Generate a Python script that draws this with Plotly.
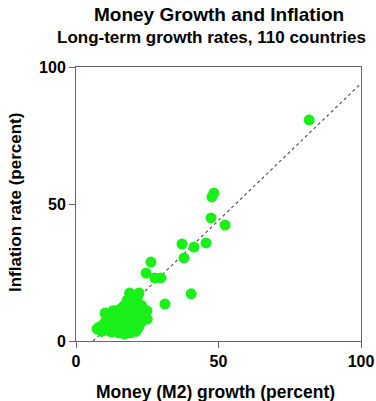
import plotly.graph_objects as go

# Money growth (x) and inflation (y), percent
money_growth = [81.8, 48.4, 47.7, 47.4, 52.3, 37.2, 41.4, 45.6, 37.9, 26.3,
                24.6, 27.7, 29.8, 40.4, 31.2, 18.8, 22.1, 24.9, 18.2, 12.6,
                7.4, 10.2,
                8, 9, 9.5, 10, 10.5, 11, 11, 12, 12, 12.5, 13, 13, 13.5, 14,
                14, 16, 15, 15, 15.5, 16, 16, 17, 16.5, 17, 17, 18.5, 18,
                18, 18.5, 19, 19, 20, 20, 20, 20.5, 21, 21, 21.5, 22, 22.5,
                23, 20, 18, 14, 13, 11, 13, 15, 16, 17, 18, 19, 14, 22, 10, 20,
                22, 23, 24, 25, 21, 19, 17, 19.5, 20.5]
inflation = [80.7, 54.0, 52.6, 44.9, 42.3, 35.4, 34.3, 35.8, 30.3, 28.8,
             24.8, 23.0, 23.0, 17.2, 13.5, 17.5, 17.5, 11.0, 4.7, 3.3,
             4.4, 10.2,
             5, 3.5, 6, 4, 7.5, 5, 9, 6, 3.5, 8, 5, 10, 7, 4,
             9, 12, 6, 8, 10, 4.5, 7, 13, 9, 11, 6, 14, 8,
             10, 12, 6.5, 9, 15, 11, 13, 8, 10, 12.5, 16, 9, 11,
             13, 5, 15, 6, 11, 7, 4, 3, 11, 8, 6, 13, 11, 7, 6, 7,
             5, 7, 9, 8, 3.5, 3, 2.5, 16.5, 14]

fit_intercept = -6.0
fit_slope = 1.0
fit_x_range = [6, 100]

axis_ticks = [0, 50, 100]

title_text = "Money Growth and Inflation"
subtitle_text = "Long-term growth rates, 110 countries"
x_title = "Money (M2) growth (percent)"
y_title = "Inflation rate (percent)"

fig = go.Figure()
fig.add_trace(go.Scatter(
    x=fit_x_range,
    y=[fit_intercept + fit_slope * v for v in fit_x_range],
    mode="lines",
    line=dict(color="#555555", width=1.2, dash="dot"),
    hoverinfo="skip", showlegend=False))
fig.add_trace(go.Scatter(
    x=money_growth, y=inflation, mode="markers",
    marker=dict(color="rgb(25,240,25)", size=11, line=dict(width=0)),
    showlegend=False))

font_family = "Liberation Sans, Arial, sans-serif"
axis_common = dict(
    range=[0, 100], tickvals=axis_ticks, ticktext=[f"<b>{t}</b>" for t in axis_ticks],
    showgrid=False, zeroline=False, showline=True, linecolor="#666666", linewidth=1,
    mirror=True, ticks="outside", ticklen=6, tickcolor="#666666", automargin=False,
    tickfont=dict(family=font_family, size=16, color="black"))

fig.update_layout(
    width=376, height=401,
    margin=dict(l=76, r=15, t=67, b=60),
    plot_bgcolor="white", paper_bgcolor="white",
    xaxis=axis_common,
    yaxis=axis_common,
)

def note(text, x, y, size, angle=0):
    fig.add_annotation(text=f"<b>{text}</b>", xref="paper", yref="paper",
                       x=x, y=y, xanchor="center", yanchor="middle",
                       showarrow=False, textangle=angle,
                       font=dict(family=font_family, size=size, color="black"))

note(title_text, 0.5, 1.19, 19)
note(subtitle_text, 0.475, 1.109, 17)
note(x_title, 0.49, -0.186, 17.5)
note(y_title, -0.21, 0.504, 17, angle=-90)

fig.write_html("out.html")
